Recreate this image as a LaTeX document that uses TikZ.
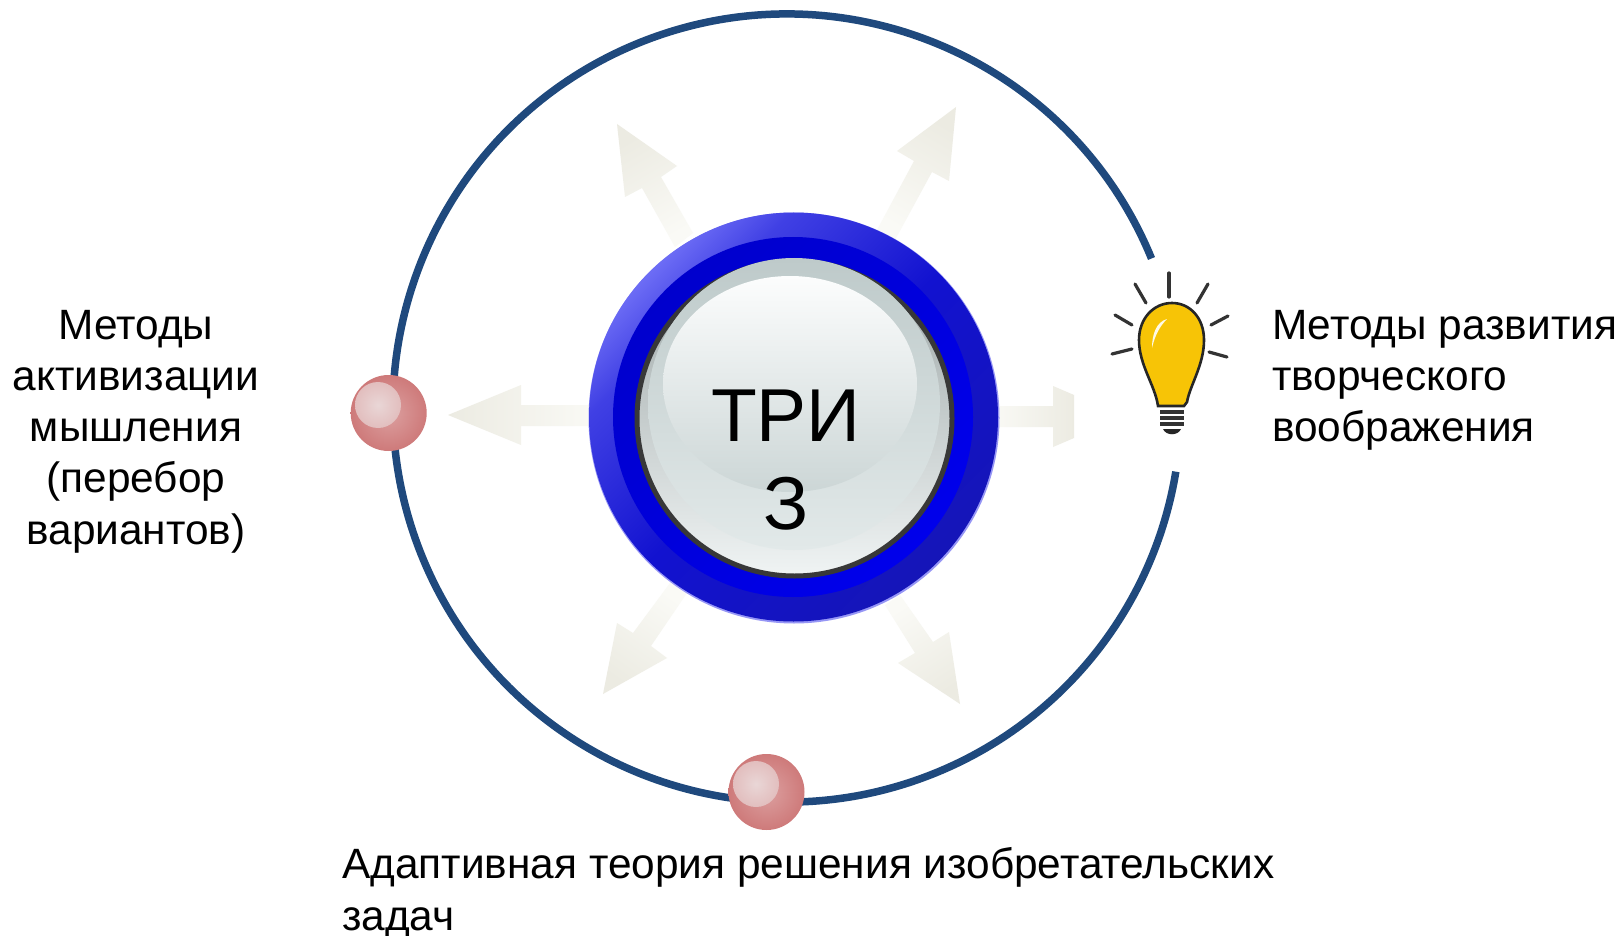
\documentclass[tikz,border=0pt]{standalone}
\usepackage{fontspec}
\setmainfont{Liberation Sans}
\definecolor{ringblue}{RGB}{31,73,125}
\definecolor{arrowc}{RGB}{236,235,226}
\definecolor{arrowl}{RGB}{250,250,246}
\definecolor{ballout}{RGB}{206,122,122}
\definecolor{ballin}{RGB}{220,160,160}
\definecolor{ballhi}{RGB}{233,214,214}
\definecolor{ballhio}{RGB}{226,190,190}
\definecolor{bulb}{RGB}{247,196,6}
\definecolor{hubA}{RGB}{155,165,165}
\definecolor{hubB}{RGB}{240,244,244}
\definecolor{hubC}{RGB}{190,202,202}
\definecolor{hubD}{RGB}{226,233,233}
\definecolor{hubE}{RGB}{252,253,253}
\definecolor{hubF}{RGB}{204,214,214}
\definecolor{rimA}{RGB}{108,108,245}
\definecolor{rimM}{RGB}{64,64,228}
\definecolor{rimB}{RGB}{18,18,208}
\definecolor{rimC}{RGB}{21,21,184}
\definecolor{rimD}{RGB}{150,150,245}
\definecolor{coreA}{RGB}{0,0,205}
\definecolor{coreB}{RGB}{0,0,235}
\pgfdeclareverticalshading{rimshade}{100bp}{color(0bp)=(rimC); color(25bp)=(rimC); color(50bp)=(rimB); color(68bp)=(rimM); color(75bp)=(rimA); color(100bp)=(rimA)}
\tikzset{
 lbl/.style={font=\fontsize{42.4}{51.2}\selectfont,inner sep=0pt,align=left,text=black},
 lblc/.style={lbl,align=center},
 orbit/.style={draw=ringblue,line width=7.5pt,line cap=butt},
 ball/.style={circle,minimum size=76pt,inner sep=0pt,inner color=ballin,outer color=ballout},
 shine/.style={top color=arrowc,bottom color=arrowl},
 ray/.style={draw=black!80,line width=3.2pt,line cap=round},
}
\begin{document}
\begin{tikzpicture}[x=1pt,y=-1pt]
\useasboundingbox (0,0) rectangle (1620,936);
\fill[white] (0,0) rectangle (1620,936);
\coordinate (c) at (787,408);
% orbit
\draw[orbit] (c) ++(-22.3:394) arc[start angle=-22.3,end angle=-350.7,radius=394];
% arrows
\shade[shine,shading angle=30] (617,124)--(677,166)--(661,177)--(693,233)--(675,247)--(642,188)--(625,197)--cycle;
\shade[shine,shading angle=-30] (956,107)--(897,151)--(914,161)--(877,230)--(895,240)--(932,172)--(949,181)--cycle;
\shade[shine,shading angle=90] (448,415)--(521,385)--(521,405)--(600,405)--(600,426)--(521,426)--(521,445)--cycle;
\shade[shine,shading angle=-90] (990,406)--(1053,406)--(1053,386)--(1074,395)--(1074,438)--(1053,447)--(1053,427)--(990,427)--cycle;
\shade[shine,shading angle=145] (603,694)--(617,623)--(633,633)--(670,583)--(687,593)--(651,646)--(667,658)--cycle;
\shade[shine,shading angle=-147] (960,704)--(949,632)--(933,642)--(900,595)--(885,605)--(915,653)--(898,663)--cycle;
% disc
\fill[rimD] (794,418) circle (205.5);
\shade[shading=rimshade,shading angle=45] (793.5,417) circle (204.5);
\shade[top color=coreA,bottom color=coreB,shading angle=45] (793,417) circle (180);
% button
\node[circle,draw=black!78,line width=5pt,minimum size=315pt,inner sep=0pt,top color=hubA,bottom color=hubB] (hub) at (794.5,418.5) {};
\shade[top color=hubC,bottom color=hubD] (794,404) circle (146);
\shade[top color=hubE,bottom color=hubF] (790,384) ellipse (127 and 108);
% text
\node[font=\fontsize{75}{88}\selectfont,align=center,inner sep=0pt] (tri) at (786,460) {ТРИ\\З};
% balls
\node[ball] (b1) at (388.7,413) {};
\node[ball] (b2) at (766.5,792) {};
\shade[inner color=ballhi,outer color=ballhio] (378,405) circle (23);
\shade[inner color=ballhi,outer color=ballhio] (756,784) circle (23);
% bulb
\fill[bulb,draw=black!85,line width=2.6pt] (1158,406) .. controls (1155,385) and (1139,365) .. (1139,340) .. controls (1139,318) and (1154,303) .. (1172,303) .. controls (1190,303) and (1204,318) .. (1204,340) .. controls (1204,365) and (1190,385) .. (1187,402) -- (1184,406) -- cycle;
\fill[white,opacity=.9] (1167,319) .. controls (1156,322) and (1152,335) .. (1152,348) .. controls (1155,335) and (1160,326) .. (1167,319) -- cycle;
\foreach \y in {412,418,424}{\draw[black!80,line width=3.2pt] (1160,\y)--(1184,\y);}
\fill[black!85] (1163,429) -- (1181,429) .. controls (1178,436) and (1166,436) .. (1163,429) -- cycle;
\foreach \a/\b/\p/\q in {1169/273/1169/297,1135/284/1146/303,1115/315/1132/325,1112/354/1132/349,1208/284/1197/303,1228/316/1211/325,1227/357/1209/352}{\draw[ray] (\a,\b)--(\p,\q);}
% labels
\node[lblc,anchor=north] (l1) at (136,310) {Методы\\активизации\\мышления\\(перебор\\вариантов)};
\node[lbl,anchor=north west] (l2) at (1272,310) {Методы развития\\творческого\\воображения};
\node[lbl,anchor=north west] (l3) at (342,847.5) {Адаптивная теория решения изобретательских\\задач};
\end{tikzpicture}
\end{document}
